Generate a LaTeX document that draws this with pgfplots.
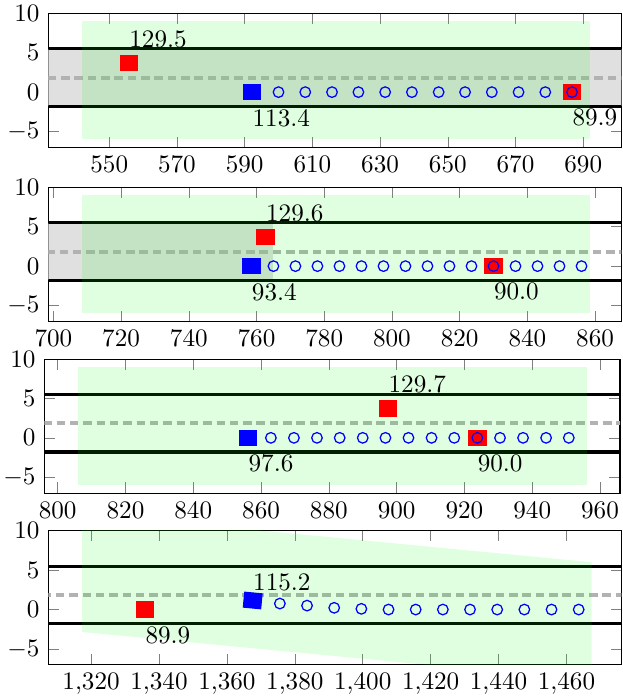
\documentclass[border=0pt]{standalone}
\usepackage{pgfplots}
\pgfplotsset{compat=1.18}

% shared look of the four stacked panels
\pgfplotsset{
  panel/.style={
    scale only axis, width=227.9pt, height=53.28pt, anchor=north west,
    ymin=-7, ymax=10, ytick={-5,0,5,10},
  },
  bandfill/.style={fill=black!12, draw=none, forget plot},
  limitline/.style={black, line width=1.3pt, forget plot},
  centreline/.style={black!30, line width=1.6pt, dash pattern=on 3.4pt off 1.9pt, forget plot},
  zonefill/.style={fill=green, fill opacity=0.12, draw=none, forget plot},
  redmark/.style={only marks, mark=square*, mark size=3pt, red,
    mark options={xscale=1.16, fill=red, draw=red}},
  bluemark/.style={only marks, mark=square*, mark size=3pt, blue,
    mark options={xscale=1.16, fill=blue, draw=blue}},
  ringmark/.style={only marks, mark=o, mark size=2.1pt, blue,
    mark options={blue, line width=0.5pt}},
}
\tikzset{
  lblabove/.style={anchor=south west, inner sep=0pt, yshift=5.8pt},
  lblbelow/.style={anchor=north west, inner sep=0pt, yshift=-6.6pt},
}

\begin{document}
\begin{tikzpicture}
\useasboundingbox (0,0) rectangle (247.31pt,-278.32pt);

% ---------- panel 1 ----------
\begin{axis}[panel, at={(19.20pt,-5.29pt)}, xmin=532.0, xmax=701.3,
  xtick={550,570,...,690}]
\addplot[bandfill] coordinates {(520,-1.8) (720,-1.8) (720,5.5) (520,5.5)} -- cycle;
\addplot[limitline] coordinates {(520,5.5) (720,5.5)};
\addplot[limitline] coordinates {(520,-1.8) (720,-1.8)};
\addplot[centreline] coordinates {(520,1.85) (720,1.85)};
\addplot[zonefill] coordinates {(542,-6) (692,-6) (692,9) (542,9)} -- cycle;
\addplot[redmark] coordinates {(555.8,3.65) (686.7,0)};
\addplot[bluemark] coordinates {(592.2,0)};
\addplot[ringmark] coordinates {
  (600.0,0) (607.9,0) (615.8,0) (623.6,0) (631.5,0) (639.4,0)
  (647.3,0) (655.1,0) (663.0,0) (670.9,0) (678.8,0) (686.7,0)};
\node[lblabove] at (axis cs:555.8,3.65) {129.5};
\node[lblbelow] at (axis cs:592.2,0) {113.4};
\node[lblbelow] at (axis cs:686.7,0) {89.9};
\end{axis}

% ---------- panel 2 ----------
\begin{axis}[panel, at={(19.20pt,-74.47pt)}, xmin=698.5, xmax=867.8,
  xtick={700,720,...,860}]
\addplot[bandfill] coordinates {(690,-1.8) (765,-1.8) (765,5.5) (690,5.5)} -- cycle;
\addplot[limitline] coordinates {(690,5.5) (880,5.5)};
\addplot[limitline] coordinates {(690,-1.8) (880,-1.8)};
\addplot[centreline] coordinates {(690,1.85) (880,1.85)};
\addplot[zonefill] coordinates {(708.5,-6) (858.5,-6) (858.5,9) (708.5,9)} -- cycle;
\addplot[redmark] coordinates {(762.7,3.72) (830.0,0)};
\addplot[bluemark] coordinates {(758.5,0)};
\addplot[ringmark] coordinates {
  (765.0,0) (771.5,0) (778.0,0) (784.5,0) (791.0,0) (797.5,0) (804.0,0)
  (810.5,0) (817.0,0) (823.5,0) (830.0,0) (836.5,0) (843.0,0) (849.5,0) (856.0,0)};
\node[lblabove] at (axis cs:762.7,3.72) {129.6};
\node[lblbelow] at (axis cs:758.5,0) {93.4};
\node[lblbelow] at (axis cs:830.0,0) {90.0};
\end{axis}

% ---------- panel 3 ----------
\begin{axis}[panel, width=228.9pt, at={(17.61pt,-142.74pt)}, xmin=796.05, xmax=965.9,
  xtick={800,820,...,960}]
\addplot[limitline] coordinates {(780,5.5) (980,5.5)};
\addplot[limitline] coordinates {(780,-1.8) (980,-1.8)};
\addplot[centreline] coordinates {(780,1.85) (980,1.85)};
\addplot[zonefill] coordinates {(806.1,-6) (956.1,-6) (956.1,9) (806.1,9)} -- cycle;
\addplot[redmark] coordinates {(897.5,3.72) (923.8,0)};
\addplot[bluemark] coordinates {(856.2,0)};
\addplot[ringmark] coordinates {
  (862.9,0) (869.7,0) (876.5,0) (883.2,0) (890.0,0) (896.7,0) (903.5,0)
  (910.3,0) (917.0,0) (923.8,0) (930.5,0) (937.3,0) (944.1,0) (950.8,0)};
\node[lblabove] at (axis cs:897.5,3.72) {129.7};
\node[lblbelow] at (axis cs:856.2,0) {97.6};
\node[lblbelow] at (axis cs:923.8,0) {90.0};
\end{axis}

% ---------- panel 4 ----------
\begin{axis}[panel, at={(19.20pt,-211.01pt)}, xmin=1307.4, xmax=1476.2,
  xtick={1320,1340,...,1460}]
\addplot[limitline] coordinates {(1290,5.5) (1490,5.5)};
\addplot[limitline] coordinates {(1290,-1.8) (1490,-1.8)};
\addplot[centreline] coordinates {(1290,1.85) (1490,1.85)};
\addplot[zonefill] coordinates {(1317.4,-2.85) (1467.4,-9.0) (1467.4,6.0) (1317.4,12.2)} -- cycle;
\addplot[redmark] coordinates {(1335.9,0)};
\addplot[bluemark, mark options={rotate=-5.5, xscale=1.16, fill=blue, draw=blue}] coordinates {(1367.6,1.15)};
\addplot[ringmark] coordinates {
  (1375.6,0.76) (1383.6,0.50) (1391.6,0.22) (1399.6,0.09) (1407.6,0) (1415.6,0)
  (1423.6,0) (1431.6,0) (1439.6,0) (1447.6,0) (1455.6,0) (1463.6,0)};
\node[lblbelow] at (axis cs:1335.9,0) {89.9};
\node[lblabove, yshift=-2.2pt] at (axis cs:1367.6,1.15) {115.2};
\end{axis}
\end{tikzpicture}
\end{document}
